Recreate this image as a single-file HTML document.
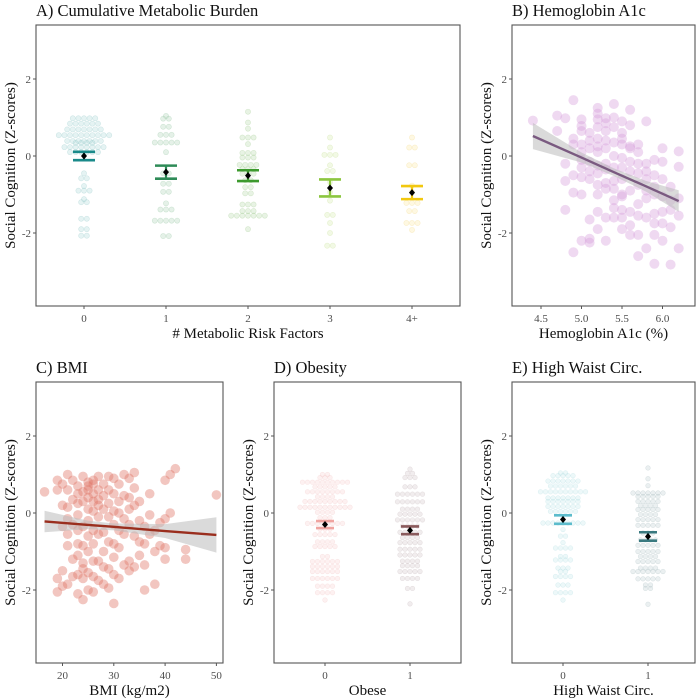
<!DOCTYPE html>
<html><head><meta charset="utf-8"><style>
html,body{margin:0;padding:0;background:#fff;}
svg{display:block;font-family:"Liberation Serif",serif;}
</style></head><body>
<svg id="fig" width="700" height="700" viewBox="0 0 700 700"></svg>
<script>
// ---------- DATA ----------
const aCats = ['0','1','2','3','4+'];
const a0Vals = [0.98,0.84,0.69,0.54,0.39,0.34,0.23,0.10,-0.45,-0.58,-0.78,-0.90,-1.12,-1.20,-1.63,-1.90,-2.07];
const a0Counts = [5,6,7,10,7,4,8,6,1,2,1,3,1,2,2,2,2];
const a1Vals = [1.04,0.97,0.76,0.55,0.35,0.10,-0.45,-0.72,-0.93,-1.23,-1.39,-1.68,-2.08];
const a1Counts = [1,2,2,3,5,1,2,2,2,1,3,5,2];
const a2Vals = [1.15,0.87,0.71,0.48,0.31,0.08,-0.04,-0.23,-0.34,-0.46,-0.63,-0.81,-0.97,-1.26,-1.43,-1.55,-1.90];
const a2Counts = [1,1,1,3,1,3,3,4,3,3,2,2,2,3,3,7,1];
const a3Vals = [0.48,0.22,0.03,-0.24,-0.39,-0.68,-0.94,-1.16,-1.53,-1.74,-2.00,-2.33];
const a3Counts = [1,1,3,1,2,1,1,1,2,1,1,2];
const a4Vals = [0.48,0.22,-0.24,-0.77,-0.94,-1.22,-1.43,-1.74,-1.92];
const a4Counts = [1,2,2,1,1,3,2,3,1];
const aMeans = [0.0,-0.42,-0.51,-0.83,-0.95];
const aSE = [0.11,0.17,0.14,0.22,0.17];
const bX = [4.4,4.7,4.7,4.8,4.8,4.8,4.8,4.9,4.9,4.9,4.9,4.9,4.9,
5.0,5.0,5.0,5.0,5.0,5.0,5.0,5.0,5.0,5.0,
5.1,5.1,5.1,5.1,5.1,5.1,5.1,5.1,5.1,
5.2,5.2,5.2,5.2,5.2,5.2,5.2,5.2,5.2,5.2,5.2,5.2,5.2,
5.3,5.3,5.3,5.3,5.3,5.3,5.3,5.3,5.3,5.3,5.3,
5.4,5.4,5.4,5.4,5.4,5.4,5.4,5.4,5.4,5.4,5.4,
5.5,5.5,5.5,5.5,5.5,5.5,5.5,5.5,5.5,5.5,5.5,5.5,
5.6,5.6,5.6,5.6,5.6,5.6,5.6,5.6,5.6,5.6,
5.7,5.7,5.7,5.7,5.7,5.7,5.7,5.7,5.7,
5.8,5.8,5.8,5.8,5.8,5.8,5.8,5.8,
5.9,5.9,5.9,5.9,5.9,5.9,5.9,5.9,
6.0,6.0,6.0,6.0,6.0,6.0,6.0,
6.1,6.1,6.1,6.1,6.1,
6.2,6.2,6.2,6.2,6.2];
const bY = [0.92,1.05,0.65,0.98,-0.2,-0.65,-1.4,1.45,0.45,0.3,-0.5,-0.95,-2.5,
0.95,0.78,0.65,0.3,0.1,-0.1,-0.3,-0.55,-1.0,-2.2,
0.6,0.4,0.2,-0.15,-0.4,-0.6,-1.65,-2.15,-2.25,
1.25,1.1,0.95,0.75,0.45,0.25,0.1,-0.25,-0.45,-0.75,-1.0,-1.45,-1.9,
0.98,0.85,0.65,0.4,0.2,-0.2,-0.35,-0.7,-0.85,-1.6,-2.2,
1.35,1.0,0.75,0.35,0.0,-0.3,-0.65,-0.85,-1.15,-1.35,-1.6,
0.9,0.6,0.45,0.3,-0.05,-0.3,-0.6,-1.0,-1.05,-1.4,-1.6,-1.9,
1.2,0.8,0.25,0.2,-0.15,-0.4,-0.9,-1.45,-1.8,-2.05,
0.3,0.1,-0.2,-0.45,-0.75,-1.25,-1.55,-2.05,-2.6,
0.9,-0.2,-0.4,-0.6,-0.9,-1.1,-1.6,-2.4,
-0.1,-0.5,-0.8,-1.0,-1.5,-1.75,-2.05,-2.8,
0.2,-0.15,-0.6,-1.05,-1.45,-1.75,-2.2,
-0.8,-1.15,-1.4,-1.85,-2.82,
0.12,-0.28,-1.1,-1.55,-2.4];
const bFitX = [4.4,5.0,5.4,5.8,6.2];
const bFitY = [0.52,-0.04,-0.42,-0.79,-1.17];
const bFitHalf = [0.34,0.13,0.10,0.14,0.28];
const bTicks = [4.5,5.0,5.5,6.0];
const cX = [16.5,19,19,19,19,20,20,20,20,20,21,21,21,21,21,21,21,22,22,22,22,22,
23,23,23,23,23,23,23,23,23,24,24,24,24,24,24,24,24,24,
25,25,25,25,25,25,25,25,25,25,26,26,26,26,26,26,26,26,26,26,
27,27,27,27,27,27,27,27,28,28,28,28,28,28,28,29,29,29,29,29,29,29,
30,30,30,30,30,30,30,30,31,31,31,31,31,31,32,32,32,32,32,33,33,33,33,33,33,
34,34,34,34,34,35,35,35,35,36,36,36,36,37,37,37,38,38,38,39,39,40,40,40,40,41,41,42,44,44,50];
const cY = [0.55,0.85,0.6,-1.7,-2.05,0.75,0.2,-0.35,-1.5,-1.9,1.0,0.6,0.15,-0.15,-0.55,-0.85,-1.85,0.85,0.35,-0.3,-1.2,-1.65,
0.7,0.5,0.25,-0.05,-0.45,-0.8,-1.1,-1.6,-2.1,0.95,0.55,0.3,-0.35,-0.85,-1.3,-1.45,-1.7,-2.25,
0.8,0.7,0.6,0.4,0.1,-0.2,-0.6,-1.0,-1.55,-2.0,0.85,0.75,0.5,0.3,0.05,-0.45,-0.8,-1.25,-1.65,-2.05,
0.95,0.6,0.35,0.2,-0.1,-0.55,-1.25,-1.75,0.75,0.45,0.1,-0.5,-1.0,-1.4,-1.85,0.95,0.6,0.25,-0.1,-0.75,-1.45,-1.95,
0.9,0.5,0.05,-0.3,-0.8,-1.15,-1.6,-2.35,0.75,0.3,0.0,-0.45,-0.9,-1.7,1.0,0.45,-0.15,-0.55,-1.35,0.9,0.4,0.1,-0.3,-1.25,-1.5,
1.05,0.65,0.2,-0.6,-1.4,0.3,-0.2,-0.75,-1.1,-0.35,-0.8,-1.35,-2.0,0.5,-0.05,-0.55,-0.45,-1.0,-1.85,-0.25,-0.85,0.85,-0.15,-0.9,-1.2,1.0,0.0,1.15,-0.95,-1.2,0.47];
const cFitX = [16.5,25,30,40,50];
const cFitY = [-0.22,-0.31,-0.36,-0.47,-0.57];
const cFitHalf = [0.28,0.11,0.09,0.18,0.46];
const cTicks = [20,30,40,50];
const dCats = ['0','1'];
const d0Vals = [1.0,0.92,0.8,0.68,0.55,0.42,0.3,0.15,0.02,-0.12,-0.27,-0.42,-0.56,-0.75,-0.87,-1.13,-1.26,-1.39,-1.52,-1.7,-1.9,-2.07,-2.26];
const d0Counts = [2,3,10,5,8,4,9,11,4,3,8,3,5,4,5,2,6,6,6,6,4,4,1];
const d1Vals = [1.14,1.03,0.92,0.68,0.49,0.29,0.1,-0.03,-0.18,-0.34,-0.5,-0.64,-0.77,-0.94,-1.09,-1.25,-1.37,-1.52,-1.7,-1.96,-2.36];
const d1Counts = [1,2,3,3,6,6,4,5,6,4,5,4,5,5,5,4,4,5,4,2,1];
const dMeans = [-0.30,-0.45];
const dSE = [0.09,0.10];
const eCats = ['0','1'];
const e0Vals = [1.04,0.97,0.83,0.7,0.55,0.39,0.3,0.17,0.04,-0.26,-0.43,-0.6,-0.77,-0.91,-1.13,-1.22,-1.43,-1.52,-1.65,-1.87,-2.07,-2.26];
const e0Counts = [2,5,7,6,10,7,7,7,6,9,1,2,1,4,2,4,3,2,4,3,4,1];
const e1Vals = [1.17,0.89,0.71,0.52,0.43,0.3,0.19,0.09,-0.04,-0.17,-0.32,-0.52,-0.7,-0.84,-1.0,-1.13,-1.26,-1.43,-1.52,-1.71,-1.87,-1.96,-2.37];
const e1Counts = [1,1,1,7,5,5,4,5,4,5,5,3,4,5,5,4,5,4,7,5,2,2,1];
const eMeans = [-0.17,-0.61];
const eSE = [0.11,0.11];
const yTicks = [2,0,-2];

// ---------- DRAW ----------
const NS='http://www.w3.org/2000/svg';
const svg=document.getElementById('fig');
function el(tag,attrs,parent,text){const e=document.createElementNS(NS,tag);for(const k in attrs)e.setAttribute(k,attrs[k]);if(text!==undefined)e.textContent=text;(parent||svg).appendChild(e);return e;}
const UNIT=38.5;

function panel(name,x0,x1,top,zeroY,title,xTitle){
  const g=el('g',{},svg);
  
  
  const bottom=top+281;
  const ys=v=>zeroY-v*UNIT;
  const r=el('rect',{x:x0,y:top,width:x1-x0,height:281,fill:'#fff',stroke:'#555','stroke-width':1.1},g);
  
  
  const t=el('text',{x:x0,y:top-9,'font-size':16.5,fill:'#111'},g,title);
  
  
  yTicks.forEach(v=>{
    el('line',{x1:x0-3,x2:x0,y1:ys(v),y2:ys(v),stroke:'#555'},g);
    const tl=el('text',{x:x0-5,y:ys(v)+4,'font-size':11,fill:'#4d4d4d','text-anchor':'end'},g,String(v));
    
    
  });
  const yt=el('text',{transform:`translate(${x0-21},${(top+bottom)/2}) rotate(-90)`,'font-size':15,fill:'#111','text-anchor':'middle'},g,'Social Cognition (Z-scores)');
  
  
  const xt=el('text',{x:(x0+x1)/2,y:bottom+32,'font-size':15,fill:'#111','text-anchor':'middle'},g,xTitle);
  
  
  return {g,ys,bottom};
}
function xTick(p,x,label){
  el('line',{x1:x,x2:x,y1:p.bottom,y2:p.bottom+3,stroke:'#555'},p.g);
  const t=el('text',{x:x,y:p.bottom+16,'font-size':11,fill:'#4d4d4d','text-anchor':'middle'},p.g,label);
  
  
}
function dotGroup(p,cx,vals,counts,fill,stroke,d){
  vals.forEach((v,i)=>{
    const n=counts[i];
    for(let k=0;k<n;k++){
      const x=cx+(k-(n-1)/2)*d;
      const c=el('circle',{cx:x,cy:p.ys(v),r:d/2-0.2,fill:fill,'fill-opacity':0.3,stroke:stroke,'stroke-opacity':0.3,'stroke-width':0.6},p.g);
      
      
    }
  });
}
function meanSE(p,cx,m,se,color,w){
  [m+se,m-se].forEach(v=>{const l=el('line',{x1:cx-w,x2:cx+w,y1:p.ys(v),y2:p.ys(v),stroke:color,'stroke-width':2.6},p.g);
    });
  const vl=el('line',{x1:cx,x2:cx,y1:p.ys(m+se),y2:p.ys(m-se),stroke:color,'stroke-width':2.2},p.g);
  
  
  const dm=el('path',{d:`M${cx} ${p.ys(m)-3.5}L${cx+3} ${p.ys(m)}L${cx} ${p.ys(m)+3.5}L${cx-3} ${p.ys(m)}Z`,fill:'#000'},p.g);
  
  
}
function fitBand(p,xs,fx,fy,fh,lineColor){
  let up='',lo='';
  fx.forEach((x,i)=>{up+=(i?'L':'M')+xs(x)+' '+p.ys(fy[i]+fh[i]);});
  for(let i=fx.length-1;i>=0;i--)lo+='L'+xs(fx[i])+' '+p.ys(fy[i]-fh[i]);
  const b=el('path',{d:up+lo+'Z',fill:'#bbb','fill-opacity':0.55},p.g);
  
  
  let d='';fx.forEach((x,i)=>{d+=(i?'L':'M')+xs(x)+' '+p.ys(fy[i]);});
  const l=el('path',{d:d,fill:'none',stroke:lineColor,'stroke-width':2.4},p.g);
  
  
}

// Panel A
const pA=panel('panel-a-cumulative-burden',36,460,25,156,'A) Cumulative Metabolic Burden','# Metabolic Risk Factors');
const aX=i=>84+i*82;
const aFill=['#a8d8d8','#a8d2b4','#b4d8a4','#d4eaa8','#fbe8a0'];
const aStroke=['#7fbcbc','#7fb890','#8fc07c','#b8d880','#f0d070'];
const aLine=['#1a8a8a','#2e8b57','#3d9a2e','#8cc63f','#f2c80f'];
const aGroups=[[a0Vals,a0Counts],[a1Vals,a1Counts],[a2Vals,a2Counts],[a3Vals,a3Counts],[a4Vals,a4Counts]];
aCats.forEach((c,i)=>{xTick(pA,aX(i),c);dotGroup(pA,aX(i),aGroups[i][0],aGroups[i][1],aFill[i],aStroke[i],5.6);});
aCats.forEach((c,i)=>meanSE(pA,aX(i),aMeans[i],aSE[i],aLine[i],11));

// Panel B
const pB=panel('panel-b-hba1c',512,695,25,156,'B) Hemoglobin A1c','Hemoglobin A1c (%)');
const bXs=v=>541+(v-4.5)*81;
bTicks.forEach(v=>xTick(pB,bXs(v),v.toFixed(1)));
bX.forEach((x,i)=>{const c=el('circle',{cx:bXs(x),cy:pB.ys(bY[i]),r:5,fill:'#d8a0dc','fill-opacity':0.4},pB.g);
  });
fitBand(pB,bXs,bFitX,bFitY,bFitHalf,'#7a5a80');

// Panel C
const pC=panel('panel-c-bmi',36,223,382,513,'C) BMI','BMI (kg/m2)');
const cXs=v=>62.5+(v-20)*5.13;
cTicks.forEach(v=>xTick(pC,cXs(v),String(v)));
cX.forEach((x,i)=>{const c=el('circle',{cx:cXs(x),cy:pC.ys(cY[i]),r:4.8,fill:'#e07868','fill-opacity':0.42},pC.g);
  });
fitBand(pC,cXs,cFitX,cFitY,cFitHalf,'#9a2e1e');

// Panel D
const pD=panel('panel-d-obesity',274,461,382,513,'D) Obesity','Obese');
const dX=i=>325+i*85;
dCats.forEach((c,i)=>xTick(pD,dX(i),c));
dotGroup(pD,dX(0),d0Vals,d0Counts,'#f8d0d0','#f0b8b8',5);
dotGroup(pD,dX(1),d1Vals,d1Counts,'#d0c4c8','#b8a8ac',5);
meanSE(pD,dX(0),dMeans[0],dSE[0],'#f0a4a0',9);
meanSE(pD,dX(1),dMeans[1],dSE[1],'#8a5a5c',9);

// Panel E
const pE=panel('panel-e-waist',512,695,382,513,'E) High Waist Circ.','High Waist Circ.');
const eX=i=>563+i*85;
eCats.forEach((c,i)=>xTick(pE,eX(i),c));
dotGroup(pE,eX(0),e0Vals,e0Counts,'#c4e8ec','#a0d4da',5);
dotGroup(pE,eX(1),e1Vals,e1Counts,'#bccccf','#98b0b4',5);
meanSE(pE,eX(0),eMeans[0],eSE[0],'#5cbccc',9);
meanSE(pE,eX(1),eMeans[1],eSE[1],'#3a7a80',9);
</script>
</body></html>
